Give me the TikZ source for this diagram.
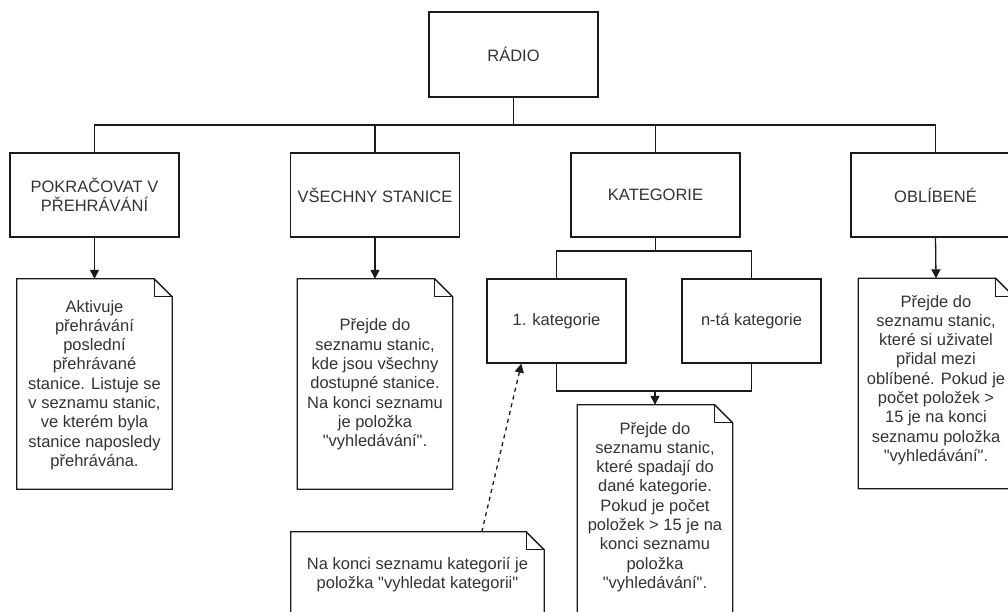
\documentclass[tikz,border=0pt]{standalone}
\usepackage{fontspec}
\setmainfont{Liberation Sans}[Ligatures=TeXOff]
\usetikzlibrary{calc,arrows.meta}
\definecolor{txt}{HTML}{333333}
\definecolor{ln}{HTML}{1A1A1A}
\newcommand{\dq}{{\char34}}
\newcommand{\notefold}[1]{%
  \draw[ln] (#1.north west) -- ($(#1.north east)+(-18,0)$) -- ($(#1.north east)+(0,18)$) -- (#1.south east) -- (#1.south west) -- cycle;
  \draw[ln] ($(#1.north east)+(-18,0)$) -- ($(#1.north east)+(-18,18)$) -- ($(#1.north east)+(0,18)$);
}
\tikzset{
  ln/.style={draw=ln, line width=1.3pt},
  box/.style={ln, rectangle, inner sep=0pt, minimum width=169pt, minimum height=84pt, align=center, text=txt, font=\fontsize{16.5}{19.3}\selectfont},
  kbox/.style={box, minimum width=139pt},
  noteout/.style={rectangle, inner sep=0pt, minimum width=155pt},
  notetxt/.style={align=center, text=txt, inner sep=0pt, font=\fontsize{16.5}{19.3}\selectfont},
  arr/.style={ln, -{Triangle[width=9pt,length=9pt]}},
  darr/.style={ln, dash pattern=on 4pt off 4pt, -{Triangle[width=9pt,length=9pt]}}
}
\begin{document}
\begin{tikzpicture}[x=1pt,y=-1pt]
\useasboundingbox (0,0) rectangle (1008,612);
\clip (0,0) rectangle (1008,612);
\fill[white] (0,0) rectangle (1008,612);

\node[box, minimum height=85pt] (radio) at (513.5,54.5) {RÁDIO};
\node[box] (b1) at (94.5,195) {POKRAČOVAT V\\PŘEHRÁVÁNÍ};
\node[box] (b2) at (375,195) {VŠECHNY STANICE};
\node[box] (b3) at (655.5,195) {KATEGORIE};
\node[box] (b4) at (935.5,195) {OBLÍBENÉ};

\node[kbox] (k1) at (556.5,321) {1. kategorie};
\node[kbox] (k2) at (751.5,321) {n-tá kategorie};

% notes
\node[noteout, minimum height=210pt] (n1) at (94.5,384) {};
\node[noteout, minimum height=210pt] (n2) at (375,384) {};
\node[noteout, minimum height=210pt] (n4) at (936,383.5) {};
\node[noteout, minimum height=220pt] (n3) at (655,515) {};
\node[noteout, minimum width=253pt, minimum height=90pt] (n5) at (417.5,577) {};
\notefold{n1}
\notefold{n2}
\notefold{n4}
\notefold{n3}
\notefold{n5}

\node[notetxt] (t1) at (94.5,385) {Aktivuje\\přehrávání\\poslední\\přehrávané\\stanice. Listuje se\\v seznamu stanic,\\ve kterém byla\\stanice naposledy\\přehrávána.};
\node[notetxt] (t2) at (375,384.5) {Přejde do\\seznamu stanic,\\kde jsou všechny\\dostupné stanice.\\Na konci seznamu\\je položka\\\dq vyhledávání\dq.};
\node[notetxt] (t4) at (936,380) {Přejde do\\seznamu stanic,\\které si uživatel\\přidal mezi\\oblíbené. Pokud je\\počet položek >\\15 je na konci\\seznamu položka\\\dq vyhledávání\dq.};
\node[notetxt] (t3) at (655,507) {Přejde do\\seznamu stanic,\\které spadají do\\dané kategorie.\\Pokud je počet\\položek > 15 je na\\konci seznamu\\položka\\\dq vyhledávání\dq.};
\node[notetxt] (t5) at (417.5,574.5) {Na konci seznamu kategorií je\\položka \dq vyhledat kategorii\dq};

% tree connectors
\coordinate (busT) at (513.5,125);
\draw[ln] (radio.south) -- (busT);
\draw[ln] (busT) -| (b1.north);
\draw[ln] (busT) -| (b2.north);
\draw[ln] (busT) -| (b3.north);
\draw[ln] (busT) -| (b4.north);

\draw[arr] (b1.south) -- (n1.north);
\draw[arr] (b2.south) -- (n2.north);
\draw[arr] (b4.south) -- (n4.north);

\coordinate (busK) at (655.5,251);
\draw[ln] (b3.south) -- (busK);
\draw[ln] (busK) -| (k1.north);
\draw[ln] (busK) -| (k2.north);

\coordinate (busN) at (655,391);
\draw[ln] (k1.south) |- (busN);
\draw[ln] (k2.south) |- (busN);
\draw[arr] (busN) -- (n3.north);

\coordinate (dS) at ($(n5.north west)+(191,0)$);
\coordinate (dE) at ($(k1.south west)+(35,0)$);
\draw[darr] (dS) -- (dE);
\end{tikzpicture}
\end{document}
